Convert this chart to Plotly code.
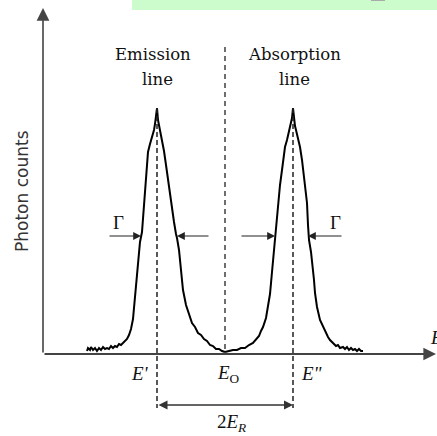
import plotly.graph_objects as go

# Energy in channels relative to E0, counts in arbitrary photon-count units
E_PRIME = -68
E_ZERO = 0
E_DPRIME = 68

em_E = [-138, -137, -135, -134, -132, -130, -128, -126, -124, -122, -120, -118, -116, -114, -112,
        -110, -108, -106, -104, -102, -100, -98, -96, -94, -92, -90, -88, -86, -85, -83,
        -81, -79, -77, -75, -73, -72, -71, -70, -69, -68, -67, -66, -65, -64, -63,
        -61, -59, -57, -55, -53, -51, -49, -48, -46, -44, -42, -39, -36, -33, -30,
        -27, -24, -21, -18, -15, -12, -9, -6, -3, 0]
em_c = [1, 4, 2, 5, 2, 4, 1, 4, 2, 5, 3, 4, 3, 6, 4,
        6, 5, 8, 7, 9, 10, 13, 17, 23, 33, 55, 80, 102, 110, 120,
        148, 172, 200, 208, 214, 218, 222, 228, 234, 244, 232, 227, 222, 218, 213,
        201, 187, 172, 157, 144, 130, 118, 114, 102, 82, 62, 47, 38, 29, 25,
        19, 17, 13, 11, 7, 6, 3, 3, 1, 0]

ab_E = [0, 4, 8, 12, 16, 20, 24, 28, 31, 34, 36, 38, 41, 43, 45, 47, 48, 50, 52, 53,
        55, 57, 59, 60, 62, 63, 64, 65, 66, 67, 68, 69, 70, 71, 72, 74, 75, 77, 78, 80,
        82, 83, 84, 86, 87, 89, 90, 92, 95, 98, 101, 103, 105, 107, 109, 111, 113, 115, 118, 120,
        122, 124, 126, 128, 130, 132, 134, 136, 138]
ab_c = [0, 1, 2, 2, 4, 4, 7, 9, 13, 16, 21, 25, 34, 45, 58, 80, 92, 116, 140, 152,
        167, 182, 196, 205, 212, 216, 219, 223, 228, 234, 244, 232, 226, 222, 218, 210, 205, 192, 182, 166,
        149, 127, 112, 100, 92, 72, 59, 45, 32, 25, 18, 15, 12, 10, 9, 6, 7, 4, 5, 3,
        5, 2, 4, 2, 3, 1, 3, 1, 1]

GAMMA_LEVEL = 116
ER_LEVEL = -53

fig = go.Figure()
fig.add_trace(go.Scatter(x=em_E, y=em_c, mode="lines", line=dict(color="black", width=2),
                         hoverinfo="skip", showlegend=False))
fig.add_trace(go.Scatter(x=ab_E, y=ab_c, mode="lines", line=dict(color="black", width=2),
                         hoverinfo="skip", showlegend=False))

shapes = []
# dashed verticals
shapes.append(dict(type="line", xref="x", yref="y", x0=E_ZERO, x1=E_ZERO, y0=305, y1=-2,
                   line=dict(color="#222", width=1.3, dash="5px,4px")))
for xv in (E_PRIME, E_DPRIME):
    shapes.append(dict(type="line", xref="x", yref="y", x0=xv, x1=xv, y0=244, y1=-56,
                       line=dict(color="#222", width=1.5, dash="5px,3px")))
# green banner at top
shapes.append(dict(type="rect", xref="paper", yref="paper", x0=132/437, x1=1, y0=1-10/436, y1=1,
                   fillcolor="#ccfccc", line=dict(width=0), layer="below"))
shapes.append(dict(type="line", xref="paper", yref="paper", x0=371/437, x1=385/437, y0=1-0.5/436, y1=1-0.5/436,
                   line=dict(color="#aaa", width=1)))

ann = []
def arrow(x, y, ax, ay, w=1.5, size=1.0, head=2, color="#333", side="end"):
    ann.append(dict(x=x, y=y, ax=ax, ay=ay, xref="x", yref="y", axref="x", ayref="y",
                    text="", showarrow=True, arrowhead=head, arrowsize=size, arrowwidth=w,
                    arrowcolor=color, arrowside=side, startarrowhead=head, startarrowsize=size))

# axes
arrow(-182, 344, -182, -2, w=1.6, size=1.6, head=2, color="#444")
arrow(211, -2, -182, -2, w=1.8, size=1.4, head=2, color="#444")
# Gamma arrows
arrow(-84, GAMMA_LEVEL, -117, GAMMA_LEVEL, w=1.2, size=1.3, color="#222")
arrow(-48, GAMMA_LEVEL, -15, GAMMA_LEVEL, w=1.2, size=1.3, color="#222")
arrow(50, GAMMA_LEVEL, 15, GAMMA_LEVEL, w=1.2, size=1.3, color="#222")
arrow(83, GAMMA_LEVEL, 118, GAMMA_LEVEL, w=1.2, size=1.3, color="#222")
# 2E_R double arrow
arrow(E_DPRIME, ER_LEVEL, E_PRIME, ER_LEVEL, w=1.5, size=1.2, color="#333", side="end+start")

def text(x, y, s, size=16, family="DejaVu Serif", angle=0, xanchor="center", color="#111"):
    ann.append(dict(x=x, y=y, xref="x", yref="y", text=s, showarrow=False, textangle=angle,
                    xanchor=xanchor, yanchor="middle",
                    font=dict(family=family, size=size, color=color)))

text(-72, 298, "Emission", size=16.5)
text(-68, 273, "line", size=16.5)
text(69, 298, "Absorption", size=16.5)
text(69, 273, "line", size=16.5)
text(-203, 161, "Photon counts", size=17, family="DejaVu Sans", angle=-90, color="#333")
text(-107, 130, "Γ", size=19, family="Liberation Serif")
text(110, 130, "Γ", size=19, family="Liberation Serif")
text(-85, -21, "<i>E'</i>", size=19, family="Liberation Serif")
text(3, -22, "<i>E</i><sub>O</sub>", size=19, family="Liberation Serif")
text(87, -21, "<i>E\"</i>", size=19, family="Liberation Serif")
text(6, -71, "2<i>E</i><sub><i>R</i></sub>", size=19, family="Liberation Serif")
text(203, 15, "<i>E</i>", size=19, family="Liberation Serif", xanchor="left")

fig.update_layout(
    width=437, height=436, margin=dict(l=0, r=0, t=0, b=0),
    paper_bgcolor="white", plot_bgcolor="white",
    xaxis=dict(range=[-225, 212], visible=False),
    yaxis=dict(range=[-84, 352], visible=False),
    shapes=shapes, annotations=ann, showlegend=False,
)
fig.write_html("out.html", config={"staticPlot": True},
               post_script="document.body.style.margin='0';document.body.style.overflow='hidden';")
